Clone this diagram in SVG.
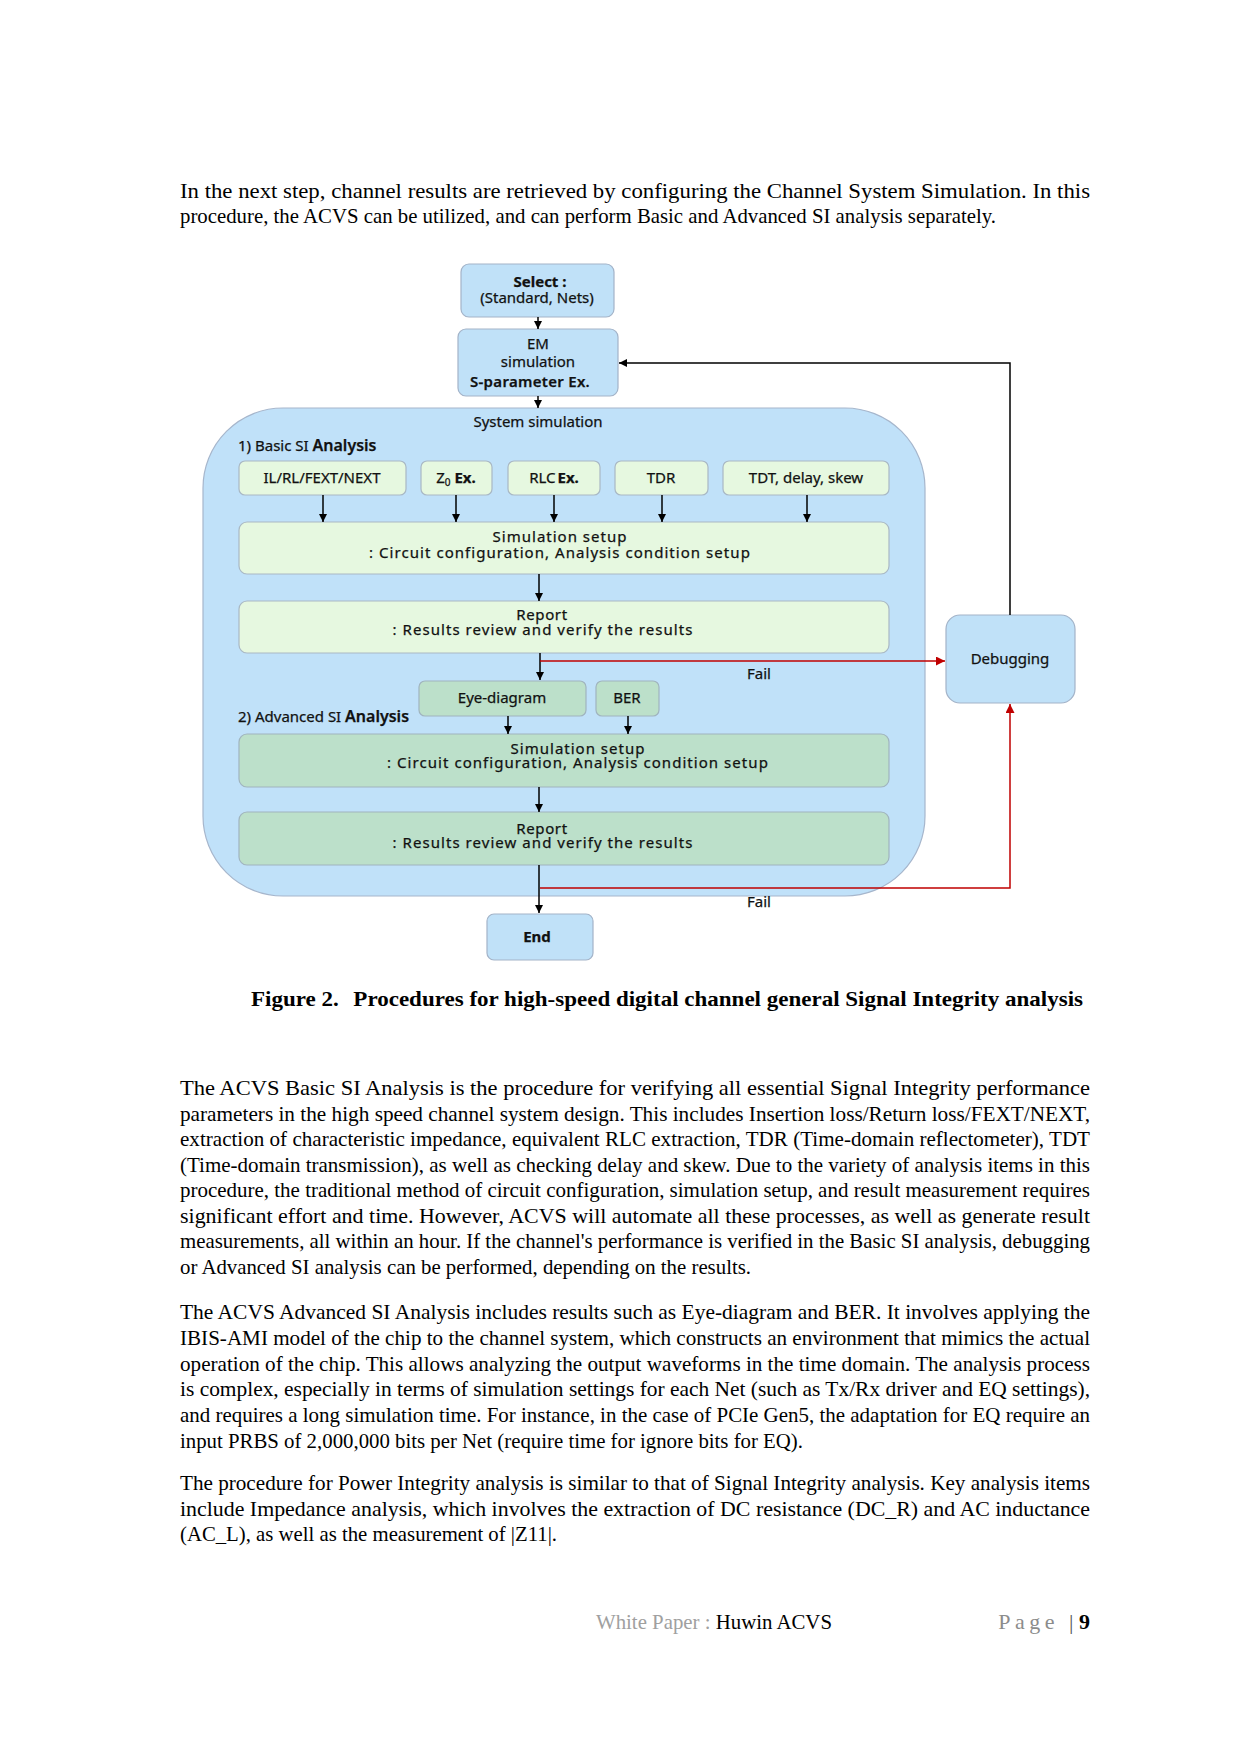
<svg xmlns="http://www.w3.org/2000/svg" width="1241" height="1755" viewBox="0 0 1241 1755">
<style>
.bb{fill:#C0E1F8;stroke:#A3B3C8;stroke-width:1.2}
.lg{fill:#E6F8E0;stroke:#A9B8C4;stroke-width:1.2}
.dg{fill:#BCE0CA;stroke:#A0B4BE;stroke-width:1.2}
.t{font-family:"Noto Sans","DejaVu Sans",sans-serif;font-size:15px;fill:#111;stroke:#111;stroke-width:0.25}
.m{text-anchor:middle}
.b{font-weight:bold}
.body{font-family:"Liberation Serif","Times New Roman",serif;font-size:22px;fill:#000}
.conn{stroke:#000;stroke-width:1.5;fill:none}
.red{stroke:#C00000;stroke-width:1.5;fill:none}
</style>
<defs>
<marker id="ab" viewBox="0 0 10 10" refX="10" refY="5" markerWidth="8" markerHeight="9" markerUnits="userSpaceOnUse" orient="auto"><path d="M0,0 L10,5 L0,10 z" fill="#000"/></marker>
<marker id="ar" viewBox="0 0 10 10" refX="10" refY="5" markerWidth="9" markerHeight="9" markerUnits="userSpaceOnUse" orient="auto"><path d="M0,0 L10,5 L0,10 z" fill="#C00000"/></marker>
</defs>
<rect width="1241" height="1755" fill="#fff"/>

<g id="para1" class="body">
<text x="180" y="198" textLength="910" lengthAdjust="spacingAndGlyphs">In the next step, channel results are retrieved by configuring the Channel System Simulation. In this</text>
<text x="180" y="223" textLength="816" lengthAdjust="spacingAndGlyphs">procedure, the ACVS can be utilized, and can perform Basic and Advanced SI analysis separately.</text>
</g>

<g id="system">
<rect x="203" y="408" width="722" height="488" rx="80" fill="#C0E1F9" stroke="#A6B6CC" stroke-width="1.2"/>
<text class="t m" x="538" y="427">System simulation</text>
<text class="t" x="238" y="451" font-size="14">1) Basic SI <tspan font-size="16" font-weight="600">Analysis</tspan></text>
<text class="t" x="238" y="722" font-size="14">2) Advanced SI <tspan font-size="16" font-weight="600">Analysis</tspan></text>
</g>

<g id="select">
<rect class="bb" x="461" y="264" width="153" height="53" rx="8"/>
<text class="t m b" x="540" y="287">Select :</text>
<text class="t m" x="537" y="303">(Standard, Nets)</text>
</g>
<g id="em">
<rect class="bb" x="458" y="329" width="160" height="67" rx="8"/>
<text class="t m" x="538" y="349">EM</text>
<text class="t m" x="538" y="367">simulation</text>
<text class="t m" x="530" y="387" font-size="16" font-weight="600" letter-spacing="0.3">S-parameter Ex.</text>
</g>

<g id="il">
<rect class="lg" x="239" y="461" width="167" height="34" rx="6"/>
<text class="t m" x="322" y="483">IL/RL/FEXT/NEXT</text>
</g>
<g id="z0">
<rect class="lg" x="421" y="461" width="71" height="34" rx="6"/>
<text class="t m" x="456" y="483">Z<tspan font-size="10" dy="3">0</tspan><tspan dy="-3" font-weight="bold"> Ex.</tspan></text>
</g>
<g id="rlc">
<rect class="lg" x="508" y="461" width="92" height="34" rx="6"/>
<text class="t m" x="554" y="483">RLC<tspan font-weight="bold" dx="2">Ex.</tspan></text>
</g>
<g id="tdr">
<rect class="lg" x="615" y="461" width="93" height="34" rx="6"/>
<text class="t m" x="661" y="483">TDR</text>
</g>
<g id="tdt">
<rect class="lg" x="723" y="461" width="166" height="34" rx="6"/>
<text class="t m" x="806" y="483">TDT, delay, skew</text>
</g>
<g id="setup1">
<rect class="lg" x="239" y="522" width="650" height="52" rx="8"/>
<text class="t m" x="560" y="542" letter-spacing="1">Simulation setup</text>
<text class="t m" x="560" y="558" letter-spacing="1.05">: Circuit configuration, Analysis condition setup</text>
</g>
<g id="report1">
<rect class="lg" x="239" y="601" width="650" height="52" rx="8"/>
<text class="t m" x="542" y="620" letter-spacing="0.6">Report</text>
<text class="t m" x="543" y="635" letter-spacing="1.05">: Results review and verify the results</text>
</g>
<g id="eye">
<rect class="dg" x="419" y="681" width="167" height="35" rx="6"/>
<text class="t m" x="502" y="703">Eye-diagram</text>
</g>
<g id="ber">
<rect class="dg" x="596" y="681" width="63" height="35" rx="6"/>
<text class="t m" x="627" y="703">BER</text>
</g>
<g id="setup2">
<rect class="dg" x="239" y="734" width="650" height="53" rx="8"/>
<text class="t m" x="578" y="754" letter-spacing="1">Simulation setup</text>
<text class="t m" x="578" y="768" letter-spacing="1.05">: Circuit configuration, Analysis condition setup</text>
</g>
<g id="report2">
<rect class="dg" x="239" y="812" width="650" height="53" rx="8"/>
<text class="t m" x="542" y="834" letter-spacing="0.6">Report</text>
<text class="t m" x="543" y="848" letter-spacing="1.05">: Results review and verify the results</text>
</g>
<g id="end">
<rect class="bb" x="487" y="914" width="106" height="46" rx="7"/>
<text class="t m b" x="537" y="942" font-size="16">End</text>
</g>
<g id="debugging">
<rect class="bb" x="946" y="615" width="129" height="88" rx="14"/>
<text class="t m" x="1010" y="664">Debugging</text>
</g>

<g id="connectors">
<line class="conn" x1="538" y1="317" x2="538" y2="329" marker-end="url(#ab)"/>
<line class="conn" x1="538" y1="396" x2="538" y2="408" marker-end="url(#ab)"/>
<line class="conn" x1="323" y1="495" x2="323" y2="522" marker-end="url(#ab)"/>
<line class="conn" x1="456" y1="495" x2="456" y2="522" marker-end="url(#ab)"/>
<line class="conn" x1="554" y1="495" x2="554" y2="522" marker-end="url(#ab)"/>
<line class="conn" x1="662" y1="495" x2="662" y2="522" marker-end="url(#ab)"/>
<line class="conn" x1="807" y1="495" x2="807" y2="522" marker-end="url(#ab)"/>
<line class="conn" x1="539" y1="574" x2="539" y2="601" marker-end="url(#ab)"/>
<line class="conn" x1="540" y1="653" x2="540" y2="680" marker-end="url(#ab)"/>
<line class="conn" x1="508" y1="716" x2="508" y2="734" marker-end="url(#ab)"/>
<line class="conn" x1="628" y1="716" x2="628" y2="734" marker-end="url(#ab)"/>
<line class="conn" x1="539" y1="787" x2="539" y2="812" marker-end="url(#ab)"/>
<line class="conn" x1="539" y1="865" x2="539" y2="913" marker-end="url(#ab)"/>
<path class="conn" d="M1010,615 V363 H619" marker-end="url(#ab)"/>
<path class="red" d="M540,661 H945" marker-end="url(#ar)"/>
<path class="red" d="M540,888 H1010 V704" marker-end="url(#ar)"/>
<text class="t m" x="759" y="679" font-size="14">Fail</text>
<text class="t m" x="759" y="907" font-size="14">Fail</text>
</g>

<g id="caption">
<text class="body" x="251" y="1006" font-weight="bold" textLength="832" lengthAdjust="spacingAndGlyphs">Figure 2.<tspan dx="14">Procedures for high-speed digital channel general Signal Integrity analysis</tspan></text>
</g>

<g id="para2" class="body">
<text x="180" y="1095" textLength="910" lengthAdjust="spacingAndGlyphs">The ACVS Basic SI Analysis is the procedure for verifying all essential Signal Integrity performance</text>
<text x="180" y="1121" textLength="910" lengthAdjust="spacingAndGlyphs">parameters in the high speed channel system design. This includes Insertion loss/Return loss/FEXT/NEXT,</text>
<text x="180" y="1146" textLength="910" lengthAdjust="spacingAndGlyphs">extraction of characteristic impedance, equivalent RLC extraction, TDR (Time-domain reflectometer), TDT</text>
<text x="180" y="1172" textLength="910" lengthAdjust="spacingAndGlyphs">(Time-domain transmission), as well as checking delay and skew. Due to the variety of analysis items in this</text>
<text x="180" y="1197" textLength="910" lengthAdjust="spacingAndGlyphs">procedure, the traditional method of circuit configuration, simulation setup, and result measurement requires</text>
<text x="180" y="1223" textLength="910" lengthAdjust="spacingAndGlyphs">significant effort and time. However, ACVS will automate all these processes, as well as generate result</text>
<text x="180" y="1248" textLength="910" lengthAdjust="spacingAndGlyphs">measurements, all within an hour. If the channel's performance is verified in the Basic SI analysis, debugging</text>
<text x="180" y="1274" textLength="571" lengthAdjust="spacingAndGlyphs">or Advanced SI analysis can be performed, depending on the results.</text>
</g>

<g id="para3" class="body">
<text x="180" y="1319" textLength="910" lengthAdjust="spacingAndGlyphs">The ACVS Advanced SI Analysis includes results such as Eye-diagram and BER. It involves applying the</text>
<text x="180" y="1345" textLength="910" lengthAdjust="spacingAndGlyphs">IBIS-AMI model of the chip to the channel system, which constructs an environment that mimics the actual</text>
<text x="180" y="1371" textLength="910" lengthAdjust="spacingAndGlyphs">operation of the chip. This allows analyzing the output waveforms in the time domain. The analysis process</text>
<text x="180" y="1396" textLength="910" lengthAdjust="spacingAndGlyphs">is complex, especially in terms of simulation settings for each Net (such as Tx/Rx driver and EQ settings),</text>
<text x="180" y="1422" textLength="910" lengthAdjust="spacingAndGlyphs">and requires a long simulation time. For instance, in the case of PCIe Gen5, the adaptation for EQ require an</text>
<text x="180" y="1448" textLength="623" lengthAdjust="spacingAndGlyphs">input PRBS of 2,000,000 bits per Net (require time for ignore bits for EQ).</text>
</g>

<g id="para4" class="body">
<text x="180" y="1490" textLength="910" lengthAdjust="spacingAndGlyphs">The procedure for Power Integrity analysis is similar to that of Signal Integrity analysis. Key analysis items</text>
<text x="180" y="1516" textLength="910" lengthAdjust="spacingAndGlyphs">include Impedance analysis, which involves the extraction of DC resistance (DC_R) and AC inductance</text>
<text x="180" y="1541" textLength="377" lengthAdjust="spacingAndGlyphs">(AC_L), as well as the measurement of |Z11|.</text>
</g>

<g id="footer" class="body" font-size="20">
<text x="596" y="1629" textLength="236" lengthAdjust="spacingAndGlyphs"><tspan fill="#A0A0A0">White Paper : </tspan>Huwin ACVS</text>
<text x="1090" y="1629" text-anchor="end"><tspan fill="#8C8C8C" letter-spacing="4.5">Page </tspan><tspan fill="#555">| </tspan><tspan font-weight="bold">9</tspan></text>
</g>
</svg>
